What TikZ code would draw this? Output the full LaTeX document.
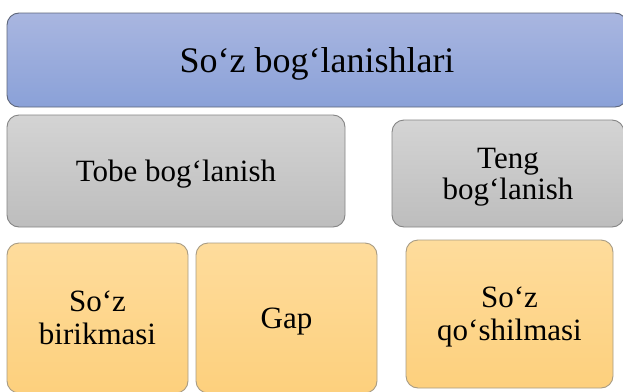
\documentclass[tikz,border=0pt]{standalone}
\usepackage{fontspec}
\setmainfont{Liberation Serif}
\definecolor{blueT}{HTML}{A9B6E0}
\definecolor{blueB}{HTML}{8AA1D8}
\definecolor{blueD}{HTML}{5E667A}
\definecolor{grayT}{HTML}{D4D4D4}
\definecolor{grayB}{HTML}{BDBDBD}
\definecolor{grayD}{HTML}{858585}
\definecolor{orT}{HTML}{FEDC9C}
\definecolor{orB}{HTML}{FDD07D}
\definecolor{orD}{HTML}{A89C84}
\tikzset{
  box/.style={rounded corners=12pt, line width=0.9pt, inner sep=0pt, outer sep=0pt, align=center, text=black, text depth=0pt},
  bluebox/.style={box, draw=blueD, top color=blueT, bottom color=blueB, font=\fontsize{36}{38}\selectfont},
  graybox/.style={box, draw=grayD, top color=grayT, bottom color=grayB, font=\fontsize{31}{31}\selectfont},
  orbox/.style={box, draw=orD, top color=orT, bottom color=orB, font=\fontsize{31}{33}\selectfont},
}
\begin{document}
\begin{tikzpicture}[x=1pt,y=-1pt]
\useasboundingbox (0,0) rectangle (623,391);
\fill[white] (0,0) rectangle (623,391);
\node[bluebox, minimum width=620pt, minimum height=94pt] (top) at (317,60) {So‘z bog‘lanishlari};
\node[graybox, minimum width=338pt, minimum height=112pt] (tobe) at (176,171) {Tobe bog‘lanish};
\node[graybox, minimum width=232pt, minimum height=107pt] (teng) at (508,173.5) {Teng\\bog‘lanish};
\node[orbox, minimum width=181pt, minimum height=150pt] (birik) at (97.5,318) {So‘z\\birikmasi};
\node[orbox, minimum width=181pt, minimum height=150pt] (gap) at (286.5,318) {Gap};
\node[orbox, minimum width=207pt, minimum height=148pt] (qosh) at (509.5,314) {So‘z\\qo‘shilmasi};
\end{tikzpicture}
\end{document}
